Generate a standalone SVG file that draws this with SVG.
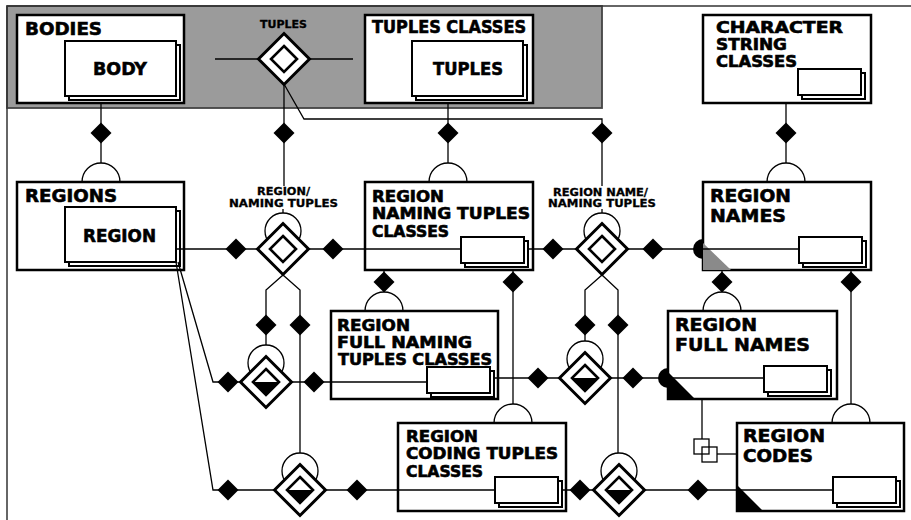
<svg xmlns="http://www.w3.org/2000/svg" xmlns:xlink="http://www.w3.org/1999/xlink" width="911" height="520" viewBox="0 0 911 520">
  <style>
    .box { fill: #fff; stroke: #000; stroke-width: 2.5; }
    .card { fill: #fff; stroke: #000; stroke-width: 2; }
    .ln { fill: none; stroke: #000; stroke-width: 1.3; }
    .frame { fill: none; stroke: #333; stroke-width: 1.5; }
    .kd { fill: #000; }
    .dout { fill: #fff; stroke: #000; stroke-width: 3; stroke-linejoin: miter; }
    .din { fill: #fff; stroke: #000; stroke-width: 2.6; }
    .ring { fill: #fff; stroke: #000; stroke-width: 1.3; }
    .t { font-family: "DejaVu Sans", "Liberation Sans", sans-serif; font-weight: bold; fill: #000; stroke: #000; stroke-width: 0.6; }
    .s10 { font-size: 10px; stroke-width: 0.3; }
    .s15 { font-size: 15px; }
    .s17 { font-size: 17px; }
    .s18 { font-size: 18px; }
  </style>
  <defs>
    <!-- small filled cardinality diamond -->
    <path id="kd" class="kd" d="M0,-10.5 L10.5,0 L0,10.5 L-10.5,0 Z"/>
    <!-- half-circle sitting on a box top edge -->
    <path id="cap" class="ln" d="M-19,0 A19,19 0 0 1 19,0"/>
    <!-- small stacked card -->
    <g id="card">
      <rect class="card" x="4" y="4" width="63" height="26"/>
      <rect class="card" x="0" y="0" width="63" height="26"/>
    </g>
    <!-- large stacked card -->
    <g id="bigcard">
      <rect class="card" x="4" y="4" width="111" height="55"/>
      <rect class="card" x="0" y="0" width="111" height="55"/>
    </g>
    <!-- relationship diamond, plain -->
    <g id="rel">
      <path class="dout" d="M0,-25.5 L25.5,0 L0,25.5 L-25.5,0 Z"/>
      <path class="din" d="M0,-13 L13,0 L0,13 L-13,0 Z"/>
    </g>
    <!-- relationship diamond, lower half of inner diamond filled -->
    <g id="relh">
      <path class="dout" d="M0,-25.5 L25.5,0 L0,25.5 L-25.5,0 Z"/>
      <path class="din" d="M0,-13 L13,0 L0,13 L-13,0 Z"/>
      <path fill="#000" d="M-13,0 L13,0 L0,13 Z"/>
    </g>
  </defs>

  <!-- page frame and shaded band -->
  <rect x="7" y="6" width="595" height="102" fill="#9b9b9b" stroke="#444" stroke-width="1.8"/>
  <line class="frame" x1="7" y1="6" x2="911" y2="6"/>
  <line class="frame" x1="7" y1="6" x2="7" y2="520"/>

  <!-- entity nodes -->
  <g id="bodies">
    <rect class="box" x="17" y="15" width="167" height="88"/>
    <text class="t s18" x="25" y="35" textLength="77" lengthAdjust="spacingAndGlyphs">BODIES</text>
    <use xlink:href="#bigcard" x="65" y="41"/>
    <text class="t s18" x="93" y="75" textLength="54" lengthAdjust="spacingAndGlyphs">BODY</text>
  </g>

  <g id="tuples-classes">
    <rect class="box" x="365" y="15" width="168" height="88"/>
    <text class="t s17" x="372" y="33" textLength="154" lengthAdjust="spacingAndGlyphs">TUPLES CLASSES</text>
    <use xlink:href="#bigcard" x="412" y="41"/>
    <text class="t s18" x="433" y="75" textLength="70" lengthAdjust="spacingAndGlyphs">TUPLES</text>
  </g>

  <g id="character-string-classes">
    <rect class="box" x="703" y="15" width="168" height="88"/>
    <text class="t s15" x="716" y="33" textLength="127" lengthAdjust="spacingAndGlyphs">CHARACTER</text>
    <text class="t s15" x="716" y="50" textLength="71" lengthAdjust="spacingAndGlyphs">STRING</text>
    <use xlink:href="#card" x="798" y="69"/>
    <text class="t s15" x="716" y="67" textLength="81" lengthAdjust="spacingAndGlyphs">CLASSES</text>
  </g>

  <g id="regions">
    <rect class="box" x="17" y="182" width="167" height="88"/>
    <text class="t s18" x="25" y="202" textLength="92" lengthAdjust="spacingAndGlyphs">REGIONS</text>
    <use xlink:href="#bigcard" x="65" y="207"/>
    <text class="t s18" x="83" y="242" textLength="73" lengthAdjust="spacingAndGlyphs">REGION</text>
  </g>

  <g id="region-naming-tuples-classes">
    <rect class="box" x="365" y="182" width="168" height="88"/>
    <text class="t s15" x="372" y="202" textLength="72" lengthAdjust="spacingAndGlyphs">REGION</text>
    <text class="t s15" x="372" y="219" textLength="158" lengthAdjust="spacingAndGlyphs">NAMING TUPLES</text>
    <text class="t s15" x="372" y="237" textLength="77" lengthAdjust="spacingAndGlyphs">CLASSES</text>
  </g>

  <g id="region-names">
    <rect class="box" x="703" y="182" width="168" height="88"/>
    <path fill="#8a8a8a" d="M703,243 L703,270 L731,270 Z"/>
    <text class="t s18" x="710" y="202" textLength="81" lengthAdjust="spacingAndGlyphs">REGION</text>
    <text class="t s18" x="710" y="222" textLength="76" lengthAdjust="spacingAndGlyphs">NAMES</text>
  </g>

  <g id="region-full-naming-tuples-classes">
    <rect class="box" x="331" y="311" width="167" height="88"/>
    <text class="t s15" x="337" y="331" textLength="73" lengthAdjust="spacingAndGlyphs">REGION</text>
    <text class="t s15" x="337" y="348" textLength="135" lengthAdjust="spacingAndGlyphs">FULL NAMING</text>
  </g>

  <g id="region-full-names">
    <rect class="box" x="668" y="311" width="169" height="88"/>
    <path fill="#000" d="M668,372 L668,399 L695,399 Z"/>
    <text class="t s18" x="675" y="331" textLength="82" lengthAdjust="spacingAndGlyphs">REGION</text>
    <text class="t s18" x="675" y="351" textLength="135" lengthAdjust="spacingAndGlyphs">FULL NAMES</text>
  </g>

  <g id="region-coding-tuples-classes">
    <rect class="box" x="398" y="423" width="168" height="88"/>
    <text class="t s15" x="406" y="442" textLength="72" lengthAdjust="spacingAndGlyphs">REGION</text>
    <text class="t s15" x="406" y="459" textLength="152" lengthAdjust="spacingAndGlyphs">CODING TUPLES</text>
    <text class="t s15" x="406" y="477" textLength="77" lengthAdjust="spacingAndGlyphs">CLASSES</text>
  </g>

  <g id="region-codes">
    <rect class="box" x="737" y="423" width="167" height="88"/>
    <path fill="#000" d="M737,485 L737,511 L763,511 Z"/>
    <text class="t s18" x="743" y="442" textLength="82" lengthAdjust="spacingAndGlyphs">REGION</text>
    <text class="t s18" x="743" y="462" textLength="70" lengthAdjust="spacingAndGlyphs">CODES</text>
  </g>

  <!-- connectors -->
  <g id="connectors">
    <!-- vertical links from upper boxes -->
    <line class="ln" x1="101" y1="103" x2="101" y2="163"/>
    <line class="ln" x1="448" y1="103" x2="448" y2="163"/>
    <line class="ln" x1="786" y1="103" x2="786" y2="163"/>
    <line class="ln" x1="284" y1="84" x2="284" y2="186"/>
    <polyline class="ln" points="284,84 304,119 602,119 602,186"/>
    <line class="ln" x1="215" y1="59" x2="353" y2="59"/>
    <line class="ln" x1="283" y1="209" x2="283" y2="214"/>
    <line class="ln" x1="602" y1="209" x2="602" y2="214"/>

    <!-- naming row -->
    <line class="ln" x1="177" y1="249" x2="461" y2="249"/>
    <line class="ln" x1="528" y1="249" x2="799" y2="249"/>

    <!-- branches below the naming relationships -->
    <polyline class="ln" points="283,275 266,290 266,346"/>
    <polyline class="ln" points="283,275 300,290 300,455"/>
    <polyline class="ln" points="602,275 585,290 585,343"/>
    <polyline class="ln" points="602,275 618,290 618,455"/>

    <!-- full naming row -->
    <polyline class="ln" points="178,262 213,382 427,382"/>
    <line class="ln" x1="494" y1="378" x2="764" y2="378"/>

    <!-- coding row -->
    <polyline class="ln" points="176,262 213,490 495,490"/>
    <line class="ln" x1="563" y1="490" x2="833" y2="490"/>

    <!-- links down from lower boxes -->
    <line class="ln" x1="384" y1="270" x2="384" y2="292"/>
    <line class="ln" x1="722" y1="270" x2="722" y2="292"/>
    <line class="ln" x1="513" y1="270" x2="513" y2="404"/>
    <line class="ln" x1="851" y1="270" x2="851" y2="404"/>

    <!-- half-circles on box tops -->
    <use xlink:href="#cap" x="101" y="182"/>
    <use xlink:href="#cap" x="448" y="182"/>
    <use xlink:href="#cap" x="786" y="182"/>
    <use xlink:href="#cap" x="384" y="311"/>
    <use xlink:href="#cap" x="722" y="311"/>
    <use xlink:href="#cap" x="513" y="423"/>
    <use xlink:href="#cap" x="851" y="423"/>

    <!-- cardinality diamonds -->
    <use xlink:href="#kd" x="101" y="133"/>
    <use xlink:href="#kd" x="284" y="133"/>
    <use xlink:href="#kd" x="448" y="133"/>
    <use xlink:href="#kd" x="602" y="133"/>
    <use xlink:href="#kd" x="786" y="133"/>
    <use xlink:href="#kd" x="236" y="249"/>
    <use xlink:href="#kd" x="333" y="249"/>
    <use xlink:href="#kd" x="553" y="249"/>
    <use xlink:href="#kd" x="653" y="249"/>
    <use xlink:href="#kd" x="384" y="282"/>
    <use xlink:href="#kd" x="513" y="282"/>
    <use xlink:href="#kd" x="722" y="282"/>
    <use xlink:href="#kd" x="851" y="282"/>
    <use xlink:href="#kd" x="266" y="325"/>
    <use xlink:href="#kd" x="300" y="325"/>
    <use xlink:href="#kd" x="585" y="325"/>
    <use xlink:href="#kd" x="618" y="325"/>
    <use xlink:href="#kd" x="228" y="382"/>
    <use xlink:href="#kd" x="314" y="382"/>
    <use xlink:href="#kd" x="538" y="378"/>
    <use xlink:href="#kd" x="633" y="378"/>
    <use xlink:href="#kd" x="228" y="490"/>
    <use xlink:href="#kd" x="357" y="490"/>
    <use xlink:href="#kd" x="580" y="490"/>
    <use xlink:href="#kd" x="698" y="490"/>

    <!-- filled half-discs at entity edges -->
    <path fill="#000" d="M703,239 A10,10 0 0 0 703,259 Z"/>
    <path fill="#000" d="M668,368 A10,10 0 0 0 668,388 Z"/>

    <!-- full names to codes link -->
    <line class="ln" x1="702" y1="399" x2="702" y2="439"/>
    <rect class="ln" x="694" y="439" width="15" height="15"/>
    <rect class="ln" x="702" y="447" width="15" height="15"/>
    <line class="ln" x1="717" y1="454" x2="737" y2="454"/>
  </g>

  <!-- cards drawn above the connector lines -->
  <g id="cards">
    <use xlink:href="#card" x="461" y="237"/>
    <use xlink:href="#card" x="799" y="237"/>
    <use xlink:href="#card" x="427" y="367"/>
    <use xlink:href="#card" x="764" y="366"/>
    <use xlink:href="#card" x="495" y="477"/>
    <use xlink:href="#card" x="833" y="477"/>
  </g>
  <text class="t s15" x="338" y="365" textLength="154" lengthAdjust="spacingAndGlyphs">TUPLES CLASSES</text>

  <!-- relationship nodes -->
  <g id="rel-tuples">
    <text class="t s10" x="260" y="28" textLength="47" lengthAdjust="spacingAndGlyphs">TUPLES</text>
    <use xlink:href="#rel" x="284" y="59"/>
  </g>

  <g id="rel-region-naming-tuples">
    <text class="t s10" x="257" y="195" textLength="53" lengthAdjust="spacingAndGlyphs">REGION/</text>
    <text class="t s10" x="229" y="207" textLength="109" lengthAdjust="spacingAndGlyphs">NAMING TUPLES</text>
    <circle class="ring" cx="283" cy="231" r="18"/>
    <use xlink:href="#rel" x="283" y="249"/>
  </g>

  <g id="rel-region-name-naming-tuples">
    <text class="t s10" x="553" y="196" textLength="95" lengthAdjust="spacingAndGlyphs">REGION NAME/</text>
    <text class="t s10" x="548" y="207" textLength="108" lengthAdjust="spacingAndGlyphs">NAMING TUPLES</text>
    <circle class="ring" cx="602" cy="231" r="18"/>
    <use xlink:href="#rel" x="602" y="249"/>
  </g>

  <g id="rel-full-naming-left">
    <circle class="ring" cx="266" cy="363" r="18"/>
    <use xlink:href="#relh" x="266" y="382"/>
  </g>

  <g id="rel-full-naming-right">
    <circle class="ring" cx="585" cy="359" r="18"/>
    <use xlink:href="#relh" x="585" y="378"/>
  </g>

  <g id="rel-coding-left">
    <circle class="ring" cx="300" cy="471" r="18"/>
    <use xlink:href="#relh" x="300" y="490"/>
  </g>

  <g id="rel-coding-right">
    <circle class="ring" cx="619" cy="471" r="18"/>
    <use xlink:href="#relh" x="619" y="490"/>
  </g>
</svg>
